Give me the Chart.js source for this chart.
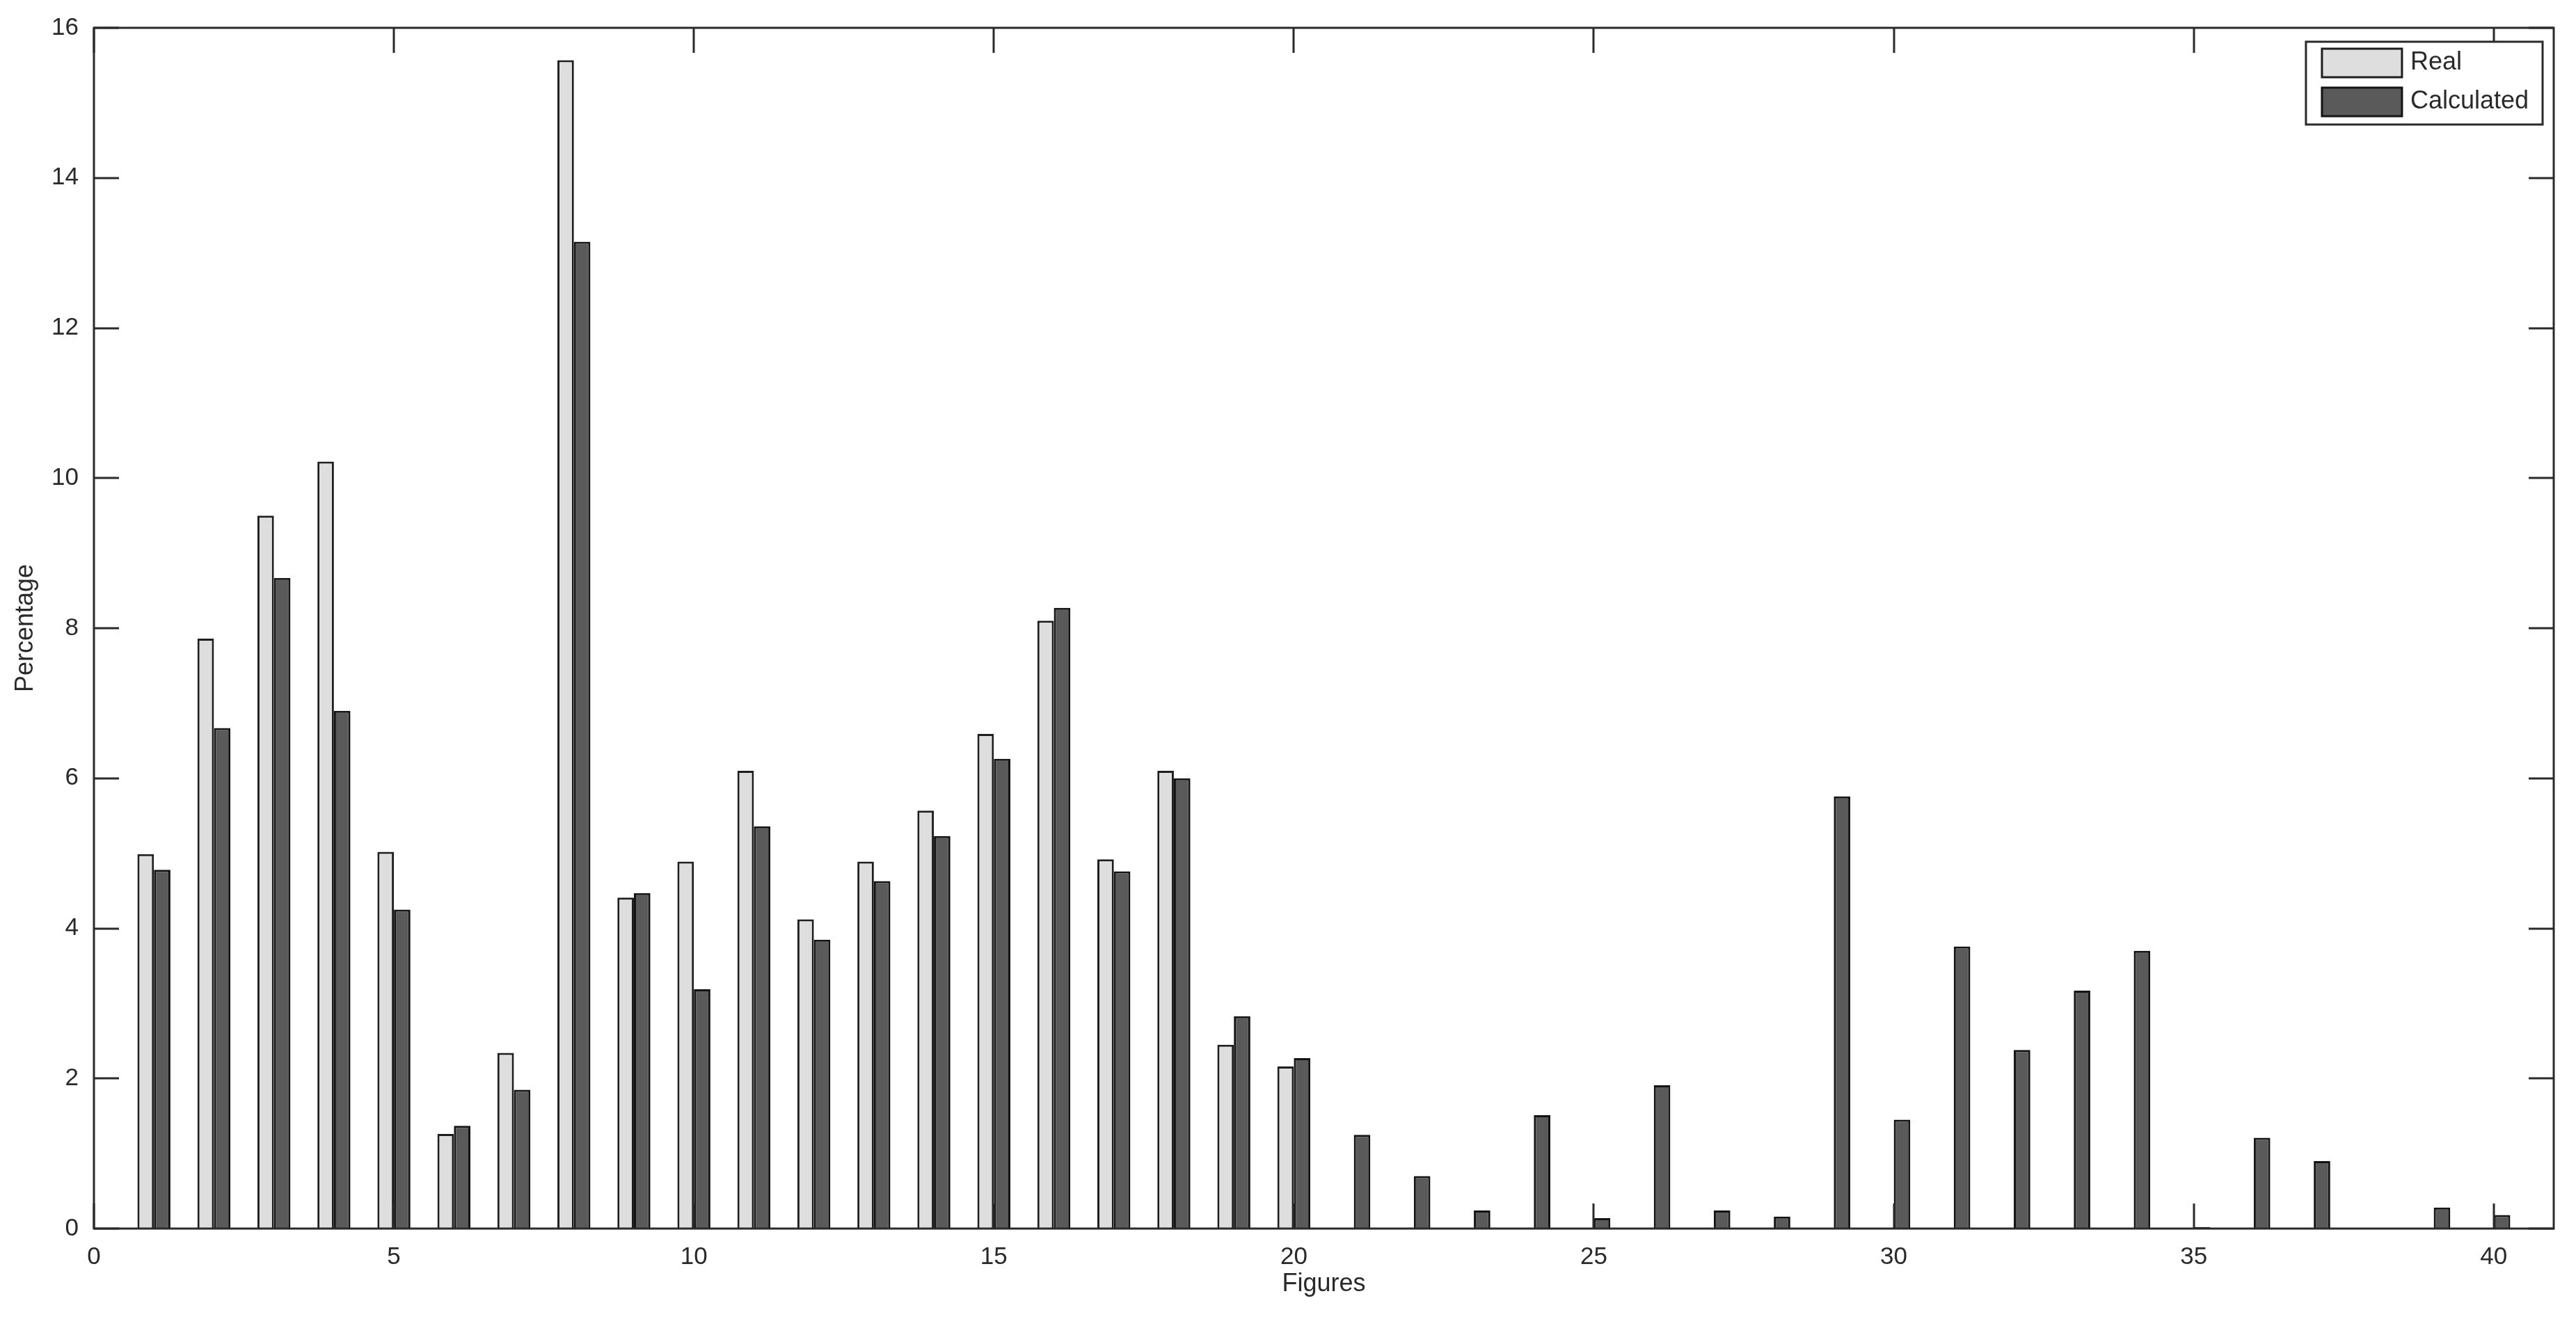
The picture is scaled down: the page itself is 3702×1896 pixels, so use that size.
<!DOCTYPE html>
<html>
<head>
<meta charset="utf-8">
<title>Real vs Calculated</title>
<script src="https://cdn.jsdelivr.net/npm/chart.js@4.4.0/dist/chart.umd.min.js"></script>
<style>
    html, body { margin: 0; padding: 0; background: #fff; }
    #wrap { width: 3702px; height: 1896px; }
</style>
</head>
<body>
<div id="wrap"><canvas id="barChart" width="3702" height="1896"></canvas></div>
<script>
const figures = [1, 2, 3, 4, 5, 6, 7, 8, 9, 10, 11, 12, 13, 14, 15, 16, 17, 18, 19, 20,
    21, 22, 23, 24, 25, 26, 27, 28, 29, 30, 31, 32, 33, 34, 35, 36, 37, 38, 39, 40];
const realValues = [4.99, 7.86, 9.50, 10.22, 5.02, 1.26, 2.34, 15.57, 4.41, 4.89,
    6.10, 4.12, 4.89, 5.57, 6.59, 8.10, 4.92, 6.10, 2.45, 2.16];
const calcValues = [4.78, 6.67, 8.67, 6.90, 4.25, 1.37, 1.85, 13.15, 4.47, 3.19,
    5.36, 3.85, 4.63, 5.23, 6.26, 8.27, 4.76, 6.00, 2.83, 2.27,
    1.25, 0.70, 0.24, 1.51, 0.14, 1.91, 0.24, 0.16, 5.76, 1.45,
    3.76, 2.38, 3.17, 3.70, 0.02, 1.21, 0.90, 0, 0.28, 0.18];
const xTicks = [0, 5, 10, 15, 20, 25, 30, 35, 40];
const yTicks = [0, 2, 4, 6, 8, 10, 12, 14, 16];

const FONT = "'Liberation Sans', Arial, sans-serif";
const INK = "#2a2a2a";
const TICK_LEN = 36;

// MATLAB-like box: frame on all four sides with inward ticks
const matlabFrame = {
    id: "matlabFrame",
    afterDatasetsDraw(chart) {
        const { ctx, chartArea: a, scales: { x, y } } = chart;
        ctx.save();
        ctx.strokeStyle = INK;
        ctx.lineWidth = 3;
        ctx.beginPath();
        xTicks.forEach(v => {
            const px = Math.round(x.getPixelForValue(v));
            ctx.moveTo(px, a.bottom); ctx.lineTo(px, a.bottom - TICK_LEN);
            ctx.moveTo(px, a.top); ctx.lineTo(px, a.top + TICK_LEN);
        });
        yTicks.forEach(v => {
            const py = Math.round(y.getPixelForValue(v));
            ctx.moveTo(a.left, py); ctx.lineTo(a.left + TICK_LEN, py);
            ctx.moveTo(a.right, py); ctx.lineTo(a.right - TICK_LEN, py);
        });
        ctx.stroke();
        ctx.strokeRect(a.left, a.top, a.right - a.left, a.bottom - a.top);
        ctx.restore();
    }
};

// boxed legend inside the top right corner of the plot
const boxLegend = {
    id: "boxLegend",
    afterDraw(chart) {
        const { ctx, chartArea: a } = chart;
        const sets = chart.data.datasets;
        ctx.save();
        ctx.font = "36px " + FONT;
        const textW = Math.max(...sets.map(d => ctx.measureText(d.label).width));
        const padL = 23, swW = 115, swH = 41, gap = 12, padR = 20, rowH = 56, padT = 10;
        const w = padL + swW + gap + textW + padR;
        const h = padT * 2 + rowH * sets.length - (rowH - swH) + 2;
        const x0 = a.right - 16 - w, y0 = a.top + 20;
        ctx.fillStyle = "#fff";
        ctx.fillRect(x0, y0, w, h);
        ctx.strokeStyle = INK;
        ctx.lineWidth = 3;
        ctx.strokeRect(x0, y0, w, h);
        sets.forEach((d, i) => {
            const sy = y0 + padT + i * rowH;
            ctx.fillStyle = d.backgroundColor;
            ctx.fillRect(x0 + padL, sy, swW, swH);
            ctx.strokeStyle = d.borderColor;
            ctx.strokeRect(x0 + padL, sy, swW, swH);
            ctx.fillStyle = INK;
            ctx.textBaseline = "middle";
            ctx.textAlign = "left";
            ctx.fillText(d.label, x0 + padL + swW + gap, sy + swH / 2);
        });
        ctx.restore();
    }
};

function initializeChart() {
    const ctx = document.getElementById("barChart").getContext("2d");
    new Chart(ctx, {
        type: "bar",
        data: {
            datasets: [
                {
                    label: "Real",
                    data: realValues.map((v, i) => ({ x: figures[i], y: v })),
                    backgroundColor: "#dedede",
                    borderColor: "#1e1e1e",
                    borderWidth: 3
                },
                {
                    label: "Calculated",
                    data: calcValues.map((v, i) => ({ x: figures[i], y: v })),
                    backgroundColor: "#5a5a5a",
                    borderColor: "#141414",
                    borderWidth: 3
                }
            ]
        },
        options: {
            responsive: false,
            animation: false,
            devicePixelRatio: 1,
            categoryPercentage: 0.55,
            barPercentage: 1.0,
            layout: { padding: { top: 40, right: 32, left: 0, bottom: 0 } },
            scales: {
                x: {
                    type: "linear",
                    min: 0,
                    max: 41,
                    offset: false,
                    grid: { display: false },
                    border: { display: false },
                    afterBuildTicks: s => { s.ticks = xTicks.map(v => ({ value: v })); },
                    afterFit: s => { s.height = 130; },
                    ticks: { color: INK, font: { family: FONT, size: 35 }, padding: 12, maxRotation: 0 },
                    title: { display: true, text: "Figures", color: INK, font: { family: FONT, size: 36 }, padding: { top: 0, bottom: 28 } }
                },
                y: {
                    min: 0,
                    max: 16,
                    grid: { display: false },
                    border: { display: false },
                    afterBuildTicks: s => { s.ticks = yTicks.map(v => ({ value: v })); },
                    afterFit: s => { s.width = 135; },
                    ticks: { color: INK, font: { family: FONT, size: 35 }, padding: 14 },
                    title: { display: true, text: "Percentage", color: INK, font: { family: FONT, size: 36 }, padding: { top: 15, bottom: 0 } }
                }
            },
            plugins: {
                legend: { display: false },
                tooltip: { enabled: false }
            }
        },
        plugins: [matlabFrame, boxLegend]
    });
}

document.addEventListener("DOMContentLoaded", initializeChart);
</script>
</body>
</html>
